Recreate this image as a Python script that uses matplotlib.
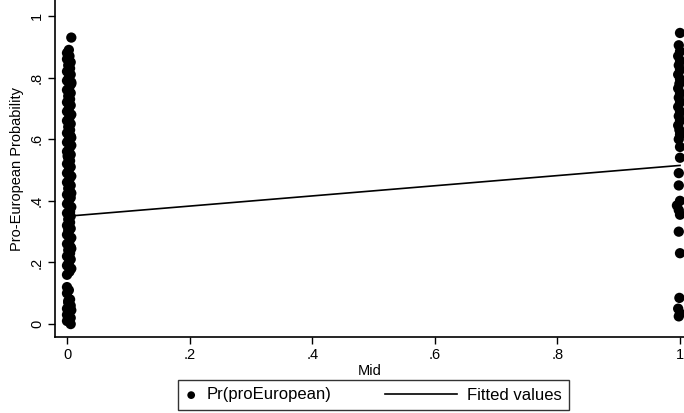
import matplotlib.pyplot as plt
from matplotlib.lines import Line2D
from matplotlib.legend_handler import HandlerLine2D

plt.rcParams['font.family'] = ['Liberation Sans', 'DejaVu Sans']

# Pr(proEuropean) at Mid = 0 (column of points on the left)
left_y = [0.00, 0.01, 0.02, 0.03, 0.04, 0.05, 0.06, 0.07, 0.08, 0.10, 0.11, 0.12,
          0.16, 0.17, 0.18, 0.19, 0.20, 0.21, 0.22, 0.23, 0.24, 0.25, 0.26, 0.27,
          0.28, 0.29, 0.30, 0.31, 0.32, 0.33, 0.34, 0.35, 0.36, 0.37, 0.38, 0.39,
          0.40, 0.41, 0.42, 0.43, 0.44, 0.45, 0.46, 0.47, 0.48, 0.49, 0.50, 0.51,
          0.52, 0.53, 0.54, 0.55, 0.56, 0.57, 0.58, 0.59, 0.60, 0.61, 0.62, 0.63,
          0.64, 0.65, 0.66, 0.67, 0.68, 0.69, 0.70, 0.71, 0.72, 0.73, 0.74, 0.75,
          0.76, 0.77, 0.78, 0.79, 0.80, 0.81, 0.82, 0.83, 0.84, 0.85, 0.86, 0.87,
          0.88, 0.89, 0.93,
          0.015, 0.045, 0.075, 0.185, 0.245, 0.305, 0.365, 0.425, 0.485, 0.545,
          0.605, 0.665, 0.725, 0.785, 0.845]
left_x = [0.006, 0.0, 0.006, 0.0, 0.004, 0.0, 0.006, 0.002, 0.005, 0.0, 0.003, 0.0,
          0.0, 0.004, 0.007, 0.0, 0.003, 0.006, 0.0, 0.005, 0.002, 0.006, 0.0, 0.004,
          0.007, 0.0, 0.003, 0.006, 0.0, 0.005, 0.002, 0.006, 0.0, 0.004, 0.007, 0.0,
          0.003, 0.006, 0.0, 0.005, 0.002, 0.006, 0.0, 0.004, 0.007, 0.0, 0.003, 0.006,
          0.0, 0.005, 0.002, 0.006, 0.0, 0.004, 0.007, 0.0, 0.003, 0.006, 0.0, 0.005,
          0.002, 0.006, 0.0, 0.004, 0.007, 0.0, 0.003, 0.006, 0.0, 0.005, 0.002, 0.006,
          0.0, 0.004, 0.007, 0.0, 0.003, 0.006, 0.0, 0.005, 0.002, 0.006, 0.0, 0.004,
          0.0, 0.003, 0.007,
          0.003, 0.007, 0.002, 0.004, 0.007, 0.002, 0.005, 0.007, 0.003, 0.001,
          0.007, 0.003, 0.002, 0.007, 0.004]

# Pr(proEuropean) at Mid = 1 (column of points on the right)
right_y = [0.945, 0.905, 0.885, 0.87, 0.855, 0.84, 0.825, 0.81, 0.795, 0.78, 0.765,
           0.75, 0.735, 0.72, 0.705, 0.69, 0.675, 0.66, 0.645, 0.63, 0.615, 0.60,
           0.575, 0.54, 0.49, 0.45, 0.40, 0.385, 0.37, 0.355, 0.30, 0.23, 0.085,
           0.05, 0.035, 0.025]
right_x = [1.0, 0.998, 1.0, 0.997, 1.0, 0.998, 1.0, 0.997, 1.0, 0.999, 0.997,
           1.0, 0.998, 1.0, 0.997, 1.0, 0.998, 1.0, 0.997, 0.999, 1.0, 0.998,
           1.0, 1.0, 0.998, 0.998, 1.0, 0.995, 0.998, 1.0, 0.998, 1.0, 0.999,
           0.997, 1.0, 0.998]

# fitted regression line
fit_x = [0.0, 1.0]
fit_y = [0.35, 0.515]

fig = plt.figure(figsize=(6.84, 4.13), dpi=100)
ax = fig.add_axes([0.0804, 0.184, 0.9196, 0.816])

ax.scatter(left_x + right_x, left_y + right_y, s=55, color='black',
           edgecolors='none', label='Pr(proEuropean)', zorder=3)
ax.plot(fit_x, fit_y, color='black', lw=1.2, label='Fitted values', zorder=2)

ax.set_xlim(-0.0196, 1.0065)
ax.set_ylim(-0.042, 1.052)
ax.set_xticks([0, 0.2, 0.4, 0.6, 0.8, 1])
ax.set_xticklabels(['0', '.2', '.4', '.6', '.8', '1'])
ax.set_yticks([0, 0.2, 0.4, 0.6, 0.8, 1])
ax.set_yticklabels(['0', '.2', '.4', '.6', '.8', '1'], rotation=90, va='center')
ax.tick_params(direction='out', length=5, width=1, labelsize=10.5, pad=3)

for side in ['top', 'right']:
    ax.spines[side].set_visible(False)
for side in ['left', 'bottom']:
    ax.spines[side].set_linewidth(1.2)

ax.set_xlabel('Mid', fontsize=10.5, labelpad=1)
ax.set_ylabel('Pro-European Probability', fontsize=10.5, labelpad=4)

# the fitted-line key is drawn longer than the marker key, reaching left
leg = fig.legend(loc='center', bbox_to_anchor=(373.5 / 684, 1 - 395 / 413), ncol=2,
                 fontsize=12, frameon=True, fancybox=False, handlelength=0.7,
                 columnspacing=6.8, handletextpad=0.6, borderpad=0.45,
                 markerscale=0.75, scatterpoints=1,
                 handler_map={Line2D: HandlerLine2D(xpad=-3.6)})
leg.get_frame().set_edgecolor('black')
leg.get_frame().set_linewidth(1.0)

fig.savefig('out.png', dpi=100)
